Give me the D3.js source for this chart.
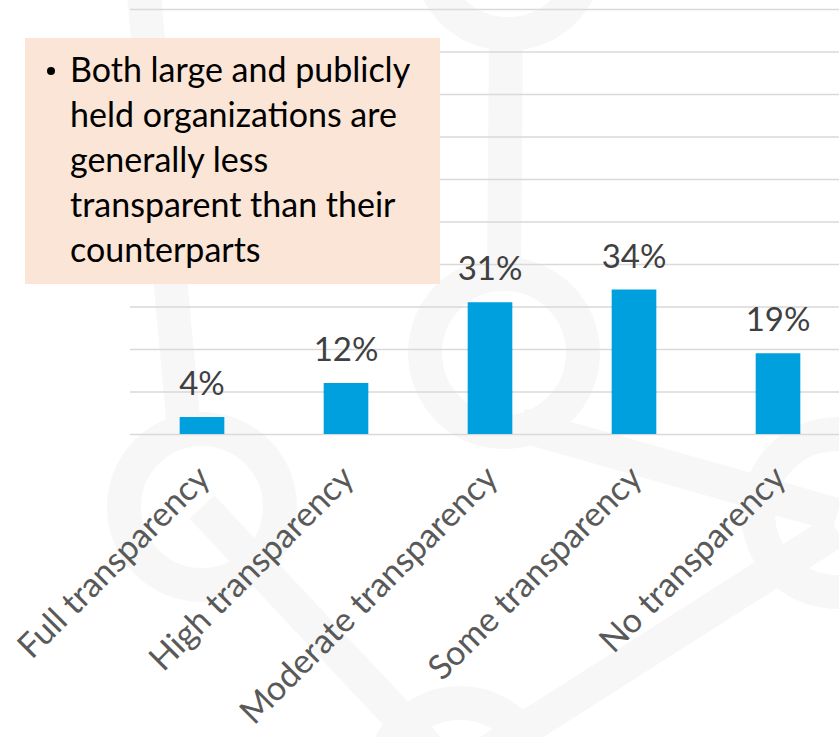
<!DOCTYPE html>
<html>
<head>
<meta charset="utf-8">
<script src="https://cdn.jsdelivr.net/npm/d3@7"></script>
<style>
  html, body { margin: 0; padding: 0; background: #fff; }
  svg { display: block; font-family: Lato, "Open Sans", sans-serif; }
</style>
</head>
<body>
<svg id="chart" width="839" height="737"></svg>
<script>
const categories = ["Full transparency", "High transparency", "Moderate transparency", "Some transparency", "No transparency"];
const values = [0.04, 0.12, 0.31, 0.34, 0.19];
const valueLabels = ["4%", "12%", "31%", "34%", "19%"];
const gridTicks = [0, 0.1, 0.2, 0.3, 0.4, 0.5, 0.6, 0.7, 0.8, 0.9, 1.0];
const noteLines = ["Both large and publicly", "held organizations are", "generally less", "transparent than their", "counterparts"];

const svg = d3.select("#chart");
const W = +svg.attr("width"), H = +svg.attr("height");

// faint watermark in the background (rings joined by bands)
const wm = svg.append("g").attr("fill", "none").attr("stroke", "#f7f7f7");
const rings = [[508, -45, 79], [504, 353, 79], [202, 507, 78], [837, 513, 79], [460, 782, 79]];
const bands = [[144, -5, 185, 440], [506, 30, 504, 280], [520, 425, 837, 515], [837, 530, 460, 770], [202, 507, 460, 782]];
wm.selectAll("line").data(bands).join("line")
  .attr("x1", d => d[0]).attr("y1", d => d[1]).attr("x2", d => d[2]).attr("y2", d => d[3])
  .attr("stroke-width", 34);
wm.selectAll("circle").data(rings).join("circle")
  .attr("cx", d => d[0]).attr("cy", d => d[1]).attr("r", d => d[2])
  .attr("stroke-width", 34);

const x = d3.scaleBand().domain(categories).range([130, 850]).paddingInner(0.69).paddingOuter(0.345);
const y = d3.scaleLinear().domain([0, 1]).range([434, 9]);

// gridlines
const grid = svg.append("g").attr("transform", "translate(130,0)")
  .call(d3.axisLeft(y).tickValues(gridTicks).tickSize(-(W - 130)).tickFormat(""));
grid.select(".domain").remove();
grid.selectAll(".tick line").attr("stroke", "#d9d9d9").attr("stroke-width", 1.5);

// bars
svg.append("g").selectAll("rect").data(values).join("rect")
  .attr("x", (d, i) => x(categories[i]))
  .attr("y", d => y(d))
  .attr("width", x.bandwidth())
  .attr("height", d => y(0) - y(d))
  .attr("fill", "#00a0de");

// value labels
svg.append("g").selectAll("text").data(values).join("text")
  .attr("x", (d, i) => x(categories[i]) + x.bandwidth() / 2)
  .attr("y", d => y(d) - 22)
  .attr("text-anchor", "middle")
  .attr("font-size", 33)
  .attr("fill", "#404040")
  .text((d, i) => valueLabels[i]);

// category labels, rotated
svg.append("g").selectAll("text").data(categories).join("text")
  .attr("transform", d => `translate(${x(d) + x.bandwidth() / 2 + 10},480) rotate(-45)`)
  .attr("text-anchor", "end")
  .attr("font-size", 34)
  .attr("fill", "#595959")
  .text(d => d);

// note box
const note = svg.append("g");
note.append("rect").attr("x", 25).attr("y", 38).attr("width", 415).attr("height", 246).attr("fill", "#fbe5d6");
note.append("circle").attr("cx", 51).attr("cy", 71).attr("r", 4).attr("fill", "#000");
note.selectAll("text").data(noteLines).join("text")
  .attr("x", 70).attr("y", (d, i) => 82 + i * 45)
  .attr("font-size", 34)
  .attr("fill", "#000")
  .text(d => d);
</script>
</body>
</html>
